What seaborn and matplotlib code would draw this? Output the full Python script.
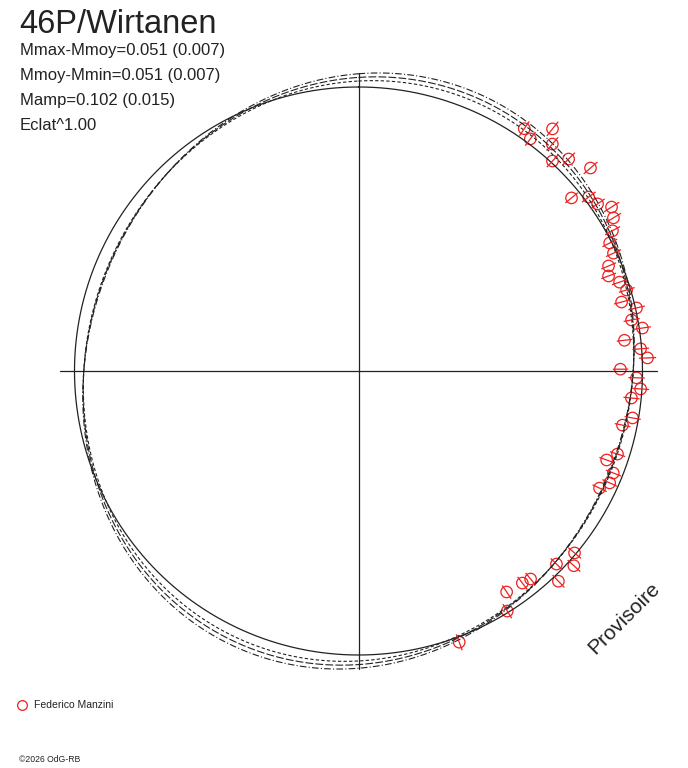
import numpy as np
import pandas as pd
import matplotlib
matplotlib.use('Agg')
import matplotlib.pyplot as plt
from matplotlib.collections import LineCollection
import seaborn as sns

# observations: rotational phase and magnitude minus mean magnitude
phase = [0.0955, 0.1014, 0.1075, 0.1125, 0.1243, 0.1187, 0.1356, 0.1414, 0.1470, 0.1529,
         0.1585, 0.1639, 0.1697, 0.1750, 0.1811, 0.1867, 0.1922, 0.1978, 0.2033, 0.2092,
         0.2145, 0.2206, 0.2261, 0.2317, 0.2375, 0.2428, 0.2489, 0.2539, 0.2601, 0.2657,
         0.2770, 0.2822, 0.2994, 0.3048, 0.3106, 0.3167, 0.3220, 0.3614, 0.3730, 0.3670,
         0.3790, 0.3900, 0.3953, 0.4060, 0.4117, 0.4434]
dmag = [-0.036, -0.018, -0.096, -0.054, -0.054, -0.007, -0.089, 0.037, -0.017, -0.029,
        -0.065, -0.050, -0.023, 0.008, 0.012, 0.050, 0.065, 0.032, 0.015, 0.047,
        -0.004, 0.024, -0.012, 0.064, 0.004, -0.020, 0.088, 0.023, 0.005, 0.038,
        0.023, 0.057, 0.047, 0.081, 0.037, 0.035, 0.063, 0.006, 0.029, -0.024,
        -0.023, 0.055, 0.063, 0.071, 0.006, -0.020]
mag_err = 0.032

# double-wave fit and its 1-sigma variants
fit_amp = [0.051, 0.0605, 0.0415]
fit_offset = [0.0, -0.0067, 0.0067]
fit_phase_max = 0.0625
fit_dashes = [(0, (7, 2)), (0, (6, 2, 1, 2)), (0, (3, 2))]

eclat = 1.00
title = '46P/Wirtanen'
stats = ['Mmax-Mmoy=0.051 (0.007)', 'Mmoy-Mmin=0.051 (0.007)',
         'Mamp=0.102 (0.015)', 'Eclat^1.00']
observer = 'Federico Manzini'

RED = '#ee2020'
INK = '#222222'
W, H = 688, 768
CX, CY, R0 = 358.5, 371, 284.0


def radius(dm):
    return (10 ** (-0.4 * np.asarray(dm))) ** eclat


def to_xy(ph, r):
    ang = 2 * np.pi * np.asarray(ph)
    return r * np.sin(ang), r * np.cos(ang)


sns.set_style('white')
plt.rcParams['font.family'] = ['Liberation Sans', 'DejaVu Sans']

fig = plt.figure(figsize=(W / 100, H / 100), dpi=100)
ax = fig.add_axes([0, 0, 1, 1])
ax.set_xlim(-CX / R0, (W - CX) / R0)
ax.set_ylim(-(H - CY) / R0, CY / R0)
ax.axis('off')

# cross through the centre
sns.lineplot(x=[-1.05, 1.05], y=[0, 0], color=INK, lw=0.9, ax=ax)
sns.lineplot(x=[0, 0], y=[-1.05, 1.05], color=INK, lw=0.9, ax=ax,
             sort=False, estimator=None)

# reference circle (mean brightness)
t = np.linspace(0, 1, 721)
cx, cy = to_xy(t, np.ones_like(t))
sns.lineplot(x=cx, y=cy, sort=False, estimator=None, color=INK, lw=0.9, ax=ax)

# fitted lightcurve
for amp, off, ls in zip(fit_amp, fit_offset, fit_dashes):
    dm_fit = off - amp * np.cos(4 * np.pi * (t - fit_phase_max))
    fx, fy = to_xy(t, radius(dm_fit))
    sns.lineplot(x=fx, y=fy, sort=False, estimator=None, color=INK, lw=0.8,
                 linestyle=ls, ax=ax)

# radial error bars
ph = np.array(phase)
dm = np.array(dmag)
x0, y0 = to_xy(ph, radius(dm + mag_err))
x1, y1 = to_xy(ph, radius(dm - mag_err))
segs = [[(a, b), (c, d)] for a, b, c, d in zip(x0, y0, x1, y1)]
ax.add_collection(LineCollection(segs, colors=RED, linewidths=0.9))

px, py = to_xy(ph, radius(dm))
obs = pd.DataFrame({'x': px, 'y': py})
sns.scatterplot(data=obs, x='x', y='y', marker='o', s=68, facecolors='none',
                edgecolors=RED, linewidth=0.9, ax=ax)

# texts
def fpx(x, y):
    return x / W, 1 - y / H

fig.text(*fpx(19, 33), title, fontsize=23.5, color=INK, va='baseline')
for i, s in enumerate(stats):
    fig.text(*fpx(20, 55 + 25 * i), s, fontsize=12, color=INK, va='baseline')

fig.text(*fpx(624, 618), 'Provisoire', fontsize=15, color=INK, rotation=45,
         ha='center', va='center', rotation_mode='anchor')

ax.plot(*fpx(22, 705), marker='o', ms=7, mfc='none', mec=RED, mew=0.9,
        transform=fig.transFigure, clip_on=False)
fig.text(*fpx(34, 705), observer, fontsize=7.5, color=INK, va='center')
fig.text(*fpx(19, 762), '©2026 OdG-RB', fontsize=6.2, color=INK, va='baseline')

fig.savefig('out.png', dpi=100, facecolor='white')
